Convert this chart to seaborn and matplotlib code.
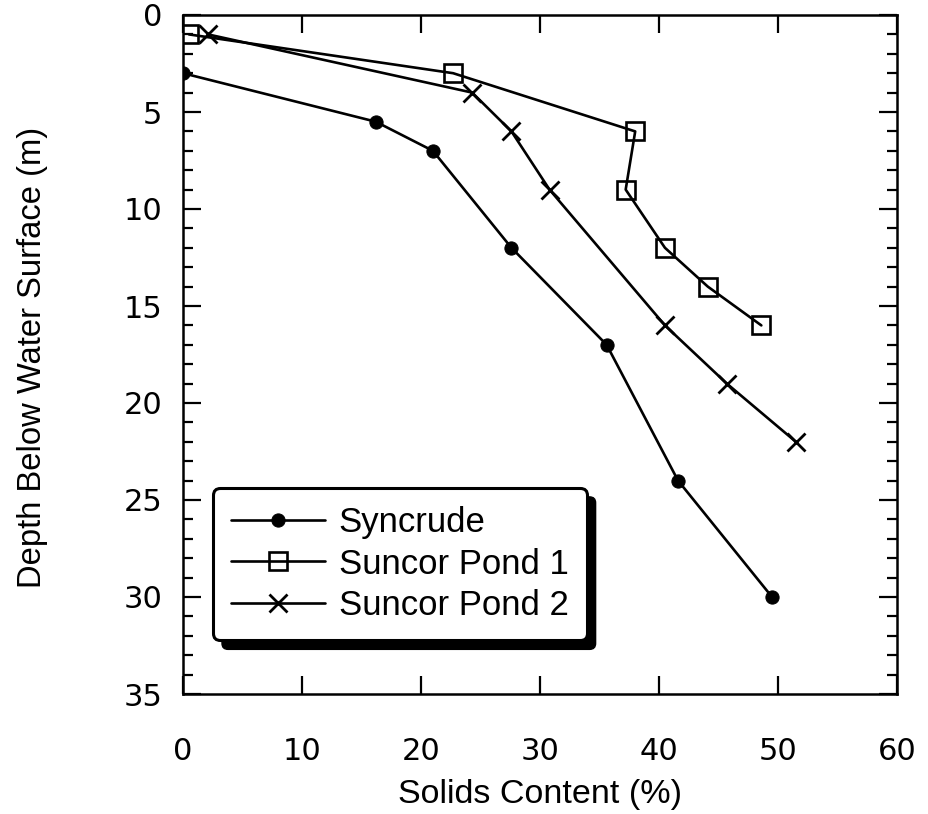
import matplotlib
matplotlib.use("Agg")
import matplotlib.pyplot as plt
from matplotlib.patches import FancyBboxPatch
from matplotlib.transforms import IdentityTransform
from matplotlib.ticker import MultipleLocator
import seaborn as sns
import pandas as pd

# Solids content (%) against depth below the water surface (m)
series_names = ["Syncrude", "Suncor Pond 1", "Suncor Pond 2"]
solids_syncrude = [0.0, 16.2, 21.0, 27.6, 35.6, 41.6, 49.5]
depth_syncrude = [3.0, 5.5, 7.0, 12.0, 17.0, 24.0, 30.0]
solids_pond1 = [0.5, 22.7, 38.0, 37.2, 40.5, 44.1, 48.6]
depth_pond1 = [1.0, 3.0, 6.0, 9.0, 12.0, 14.0, 16.0]
solids_pond2 = [2.1, 24.3, 27.6, 30.8, 40.5, 45.7, 51.5]
depth_pond2 = [1.0, 4.0, 6.0, 9.0, 16.0, 19.0, 22.0]
x_ticks = [0, 10, 20, 30, 40, 50, 60]
y_ticks = [0, 5, 10, 15, 20, 25, 30, 35]

frames = []
for name, xs, ys in zip(series_names,
                        [solids_syncrude, solids_pond1, solids_pond2],
                        [depth_syncrude, depth_pond1, depth_pond2]):
    frames.append(pd.DataFrame({"solids": xs, "depth": ys, "series": name}))
df = pd.concat(frames, ignore_index=True)

sns.set_theme(style="ticks")
plt.rcParams["font.family"] = ["Liberation Sans", "DejaVu Sans"]
plt.rcParams["text.color"] = "black"
plt.rcParams["axes.labelcolor"] = "black"

fig = plt.figure(figsize=(9.29, 8.14), dpi=100)
ax = fig.add_axes([183 / 929, 1 - 694 / 814, 714 / 929, 679 / 814])

marker_styles = {
    "Syncrude": dict(marker="o", markersize=9.5, markerfacecolor="black",
                     markeredgecolor="black"),
    "Suncor Pond 1": dict(marker="s", markersize=12.5, markerfacecolor="none",
                          markeredgecolor="black", markeredgewidth=1.9),
    "Suncor Pond 2": dict(marker="x", markersize=13.5, markeredgecolor="black",
                          markeredgewidth=2.0),
}
for name in series_names:
    sub = df[df["series"] == name]
    sns.lineplot(data=sub, x="solids", y="depth", color="black", sort=False,
                 estimator=None, linewidth=1.9, legend=False, ax=ax,
                 **marker_styles[name])
lines = ax.lines[:3]

ax.set_xlim(0, 60)
ax.set_ylim(35, 0)
ax.set_xticks(x_ticks)
ax.set_yticks(y_ticks)
ax.yaxis.set_minor_locator(MultipleLocator(1))

for spine in ax.spines.values():
    spine.set_visible(True)
    spine.set_linewidth(1.8)
    spine.set_color("black")

tick_font = dict(family="DejaVu Sans", size=22)
ax.set_xticklabels([str(t) for t in x_ticks], fontdict=tick_font)
ax.set_yticklabels([str(t) for t in y_ticks], fontdict=tick_font)
ax.tick_params(axis="both", which="major", direction="in", length=13, width=1.6,
               color="black", labelcolor="black", top=True, right=True)
ax.tick_params(axis="y", which="minor", direction="in", length=7.5, width=1.6,
               color="black", left=True, right=True)
ax.tick_params(axis="x", which="major", pad=31)
ax.tick_params(axis="y", which="major", pad=15)

ax.set_xlabel("Solids Content (%)", fontsize=24.5, color="black", va="top")
ax.xaxis.set_label_coords(0.5, -0.125)
ax.set_ylabel("Depth Below Water Surface (m)", fontsize=23.6, color="black")
ax.yaxis.set_label_coords(-0.189, 0.496)

leg = ax.legend(handles=lines, labels=series_names, loc="lower left",
                bbox_to_anchor=(0.042, 0.079), borderaxespad=0,
                fancybox=True, framealpha=1, edgecolor="black",
                handlelength=2.7, handletextpad=0.4, labelspacing=0.25,
                borderpad=0.52, fontsize=25)
leg.get_frame().set_linewidth(2.2)
for txt in leg.get_texts():
    txt.set_color("black")

# Solid drop shadow on the right and bottom of the legend box
fig.canvas.draw()
bb = leg.get_frame().get_window_extent()
shadow = FancyBboxPatch((bb.x0 + 9, bb.y0 - 9), bb.width, bb.height,
                        boxstyle="round,pad=0,rounding_size=6",
                        transform=IdentityTransform(), facecolor="black",
                        edgecolor="black", zorder=4.9, clip_on=False)
ax.add_artist(shadow)

fig.savefig("out.png", dpi=100)
